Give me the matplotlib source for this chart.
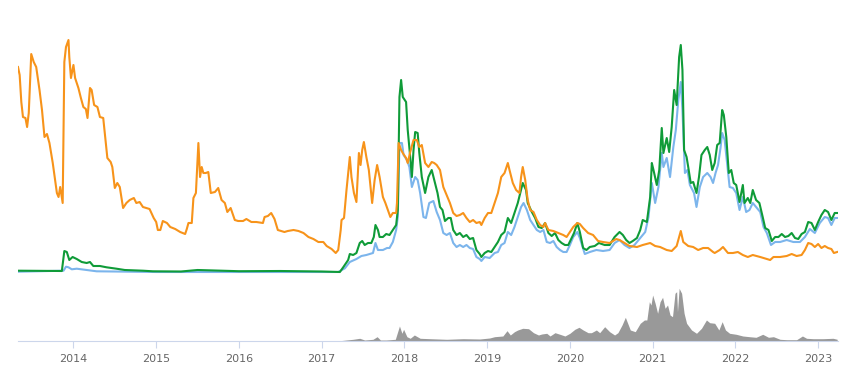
import matplotlib
matplotlib.use("Agg")
import matplotlib.pyplot as plt

# decimal years and values
orange_x = [2013.33, 2013.35, 2013.37, 2013.39, 2013.42, 2013.44, 2013.46, 2013.49, 2013.52, 2013.55,
            2013.59, 2013.62, 2013.65, 2013.68, 2013.71, 2013.75, 2013.80, 2013.82, 2013.84, 2013.87,
            2013.89, 2013.91, 2013.94, 2013.95, 2013.97, 2014.00, 2014.02, 2014.06, 2014.09, 2014.12,
            2014.15, 2014.17, 2014.20, 2014.22, 2014.25, 2014.29, 2014.32, 2014.36, 2014.41, 2014.45,
            2014.47, 2014.50, 2014.53, 2014.56, 2014.60, 2014.64, 2014.68, 2014.73, 2014.76, 2014.80,
            2014.84, 2014.88, 2014.92, 2014.97, 2015.00, 2015.02, 2015.05, 2015.08, 2015.13, 2015.17,
            2015.23, 2015.29, 2015.35, 2015.37, 2015.39, 2015.43, 2015.45, 2015.48, 2015.51, 2015.53,
            2015.55, 2015.57, 2015.60, 2015.63, 2015.66, 2015.71, 2015.75, 2015.79, 2015.83, 2015.86,
            2015.90, 2015.95, 2015.99, 2016.05, 2016.09, 2016.15, 2016.21, 2016.29, 2016.31, 2016.35,
            2016.39, 2016.43, 2016.47, 2016.51, 2016.55, 2016.59, 2016.66, 2016.72, 2016.78, 2016.84,
            2016.90, 2016.96, 2017.02, 2017.06, 2017.12, 2017.17, 2017.20, 2017.23, 2017.24, 2017.27,
            2017.30, 2017.32, 2017.34, 2017.36, 2017.39, 2017.42, 2017.45, 2017.47, 2017.49, 2017.51,
            2017.54, 2017.57, 2017.59, 2017.61, 2017.64, 2017.67, 2017.70, 2017.74, 2017.77, 2017.80,
            2017.83, 2017.86, 2017.90, 2017.91, 2017.93, 2017.96, 2017.98, 2018.02, 2018.04, 2018.07,
            2018.11, 2018.15, 2018.18, 2018.21, 2018.25, 2018.29, 2018.33, 2018.36, 2018.39, 2018.43,
            2018.47, 2018.51, 2018.55, 2018.59, 2018.63, 2018.67, 2018.71, 2018.75, 2018.79, 2018.83,
            2018.87, 2018.91, 2018.93, 2018.97, 2019.01, 2019.05, 2019.09, 2019.13, 2019.17, 2019.21,
            2019.25, 2019.27, 2019.31, 2019.35, 2019.39, 2019.41, 2019.43, 2019.46, 2019.49, 2019.52,
            2019.56, 2019.60, 2019.64, 2019.68, 2019.70, 2019.74, 2019.80, 2019.86, 2019.92, 2019.96,
            2020.00, 2020.04, 2020.09, 2020.12, 2020.16, 2020.22, 2020.28, 2020.34, 2020.40, 2020.48,
            2020.56, 2020.60, 2020.66, 2020.72, 2020.81, 2020.88, 2020.97, 2021.03, 2021.09, 2021.17,
            2021.23, 2021.29, 2021.34, 2021.37, 2021.43, 2021.49, 2021.55, 2021.61, 2021.67, 2021.73,
            2021.75, 2021.81, 2021.85, 2021.91, 2021.97, 2022.03, 2022.09, 2022.15, 2022.21, 2022.30,
            2022.38, 2022.42, 2022.46, 2022.54, 2022.62, 2022.68, 2022.74, 2022.80, 2022.84, 2022.88,
            2022.92, 2022.96, 2023.00, 2023.04, 2023.08, 2023.12, 2023.16, 2023.19, 2023.23]
orange_y = [205, 197, 170, 155, 154, 145, 159, 218, 210, 205,
            182, 162, 135, 138, 129, 109, 79, 75, 85, 69,
            210, 225, 232, 215, 194, 207, 194, 184, 174, 165,
            163, 154, 184, 182, 167, 165, 155, 154, 114, 110,
            105, 84, 89, 85, 64, 69, 72, 74, 69, 70,
            65, 64, 63, 54, 50, 42, 42, 51, 49, 45,
            43, 40, 38, 43, 49, 49, 74, 79, 129, 95,
            105, 99, 99, 100, 79, 80, 84, 72, 69, 60,
            64, 52, 51, 51, 53, 50, 50, 49, 55, 56,
            59, 53, 42, 41, 40, 41, 42, 41, 39, 35,
            33, 30, 30, 26, 23, 19, 22, 42, 52, 54,
            82, 99, 115, 95, 79, 70, 119, 107, 122, 130,
            115, 102, 85, 69, 92, 107, 95, 75, 69, 62,
            55, 59, 59, 69, 129, 122, 119, 114, 109, 120,
            132, 132, 125, 127, 109, 105, 110, 109, 107, 102,
            85, 77, 69, 59, 56, 57, 59, 54, 50, 52,
            49, 50, 47, 54, 59, 59, 69, 79, 95, 99,
            109, 102, 89, 82, 79, 95, 105, 92, 72, 62,
            60, 52, 47, 45, 49, 42, 41, 39, 37, 35,
            40, 45, 49, 48, 44, 39, 37, 31, 30, 29,
            33, 32, 29, 26, 25, 27, 29, 26, 25, 22,
            21, 26, 41, 30, 26, 25, 22, 24, 24, 20,
            19, 22, 25, 19, 19, 20, 17, 15, 17, 15,
            13, 12, 15, 15, 16, 18, 16, 17, 22, 29,
            28, 25, 28, 24, 26, 24, 23, 19, 20]

green_x = [2013.33, 2013.86, 2013.89, 2013.92, 2013.95, 2013.99, 2014.04, 2014.10, 2014.16, 2014.20,
           2014.24, 2014.32, 2014.40, 2014.52, 2014.62, 2014.84, 2014.96, 2015.30, 2015.50, 2016.00,
           2016.50, 2017.00, 2017.22, 2017.26, 2017.32, 2017.34, 2017.38, 2017.42, 2017.46, 2017.49,
           2017.52, 2017.56, 2017.60, 2017.63, 2017.65, 2017.68, 2017.70, 2017.74, 2017.78, 2017.82,
           2017.86, 2017.90, 2017.92, 2017.94, 2017.96, 2017.98, 2018.02, 2018.04, 2018.07, 2018.09,
           2018.11, 2018.13, 2018.16, 2018.18, 2018.21, 2018.25, 2018.29, 2018.33, 2018.36, 2018.40,
           2018.43, 2018.46, 2018.49, 2018.53, 2018.56, 2018.59, 2018.63, 2018.67, 2018.71, 2018.75,
           2018.79, 2018.83, 2018.87, 2018.91, 2018.93, 2018.97, 2019.01, 2019.05, 2019.09, 2019.13,
           2019.17, 2019.21, 2019.25, 2019.29, 2019.33, 2019.37, 2019.40, 2019.43, 2019.47, 2019.49,
           2019.54, 2019.58, 2019.62, 2019.66, 2019.70, 2019.74, 2019.78, 2019.82, 2019.86, 2019.90,
           2019.94, 2019.98, 2020.02, 2020.05, 2020.09, 2020.12, 2020.16, 2020.20, 2020.24, 2020.30,
           2020.35, 2020.42, 2020.48, 2020.54, 2020.60, 2020.64, 2020.68, 2020.72, 2020.76, 2020.81,
           2020.85, 2020.88, 2020.93, 2020.97, 2020.99, 2021.01, 2021.05, 2021.08, 2021.11, 2021.13,
           2021.17, 2021.20, 2021.23, 2021.26, 2021.29, 2021.32, 2021.34, 2021.36, 2021.38, 2021.41,
           2021.43, 2021.46, 2021.49, 2021.53, 2021.56, 2021.59, 2021.63, 2021.66, 2021.69, 2021.72,
           2021.75, 2021.78, 2021.81, 2021.84, 2021.86, 2021.89, 2021.92, 2021.95, 2021.98, 2022.01,
           2022.05, 2022.09, 2022.11, 2022.15, 2022.18, 2022.21, 2022.25, 2022.29, 2022.33, 2022.36,
           2022.40, 2022.44, 2022.48, 2022.52, 2022.56, 2022.60, 2022.64, 2022.68, 2022.72, 2022.76,
           2022.80, 2022.84, 2022.88, 2022.92, 2022.96, 2023.00, 2023.04, 2023.08, 2023.12, 2023.16,
           2023.20, 2023.23]
green_y = [1.3, 1, 21, 20, 12, 15, 13, 10, 9, 10,
           6, 6, 4.7, 3.3, 2, 1.3, 0.7, 0.5, 2, 0.8,
           1, 0.5, 0, 4.7, 12, 18, 17, 19, 29, 31,
           27, 29, 29, 35, 47, 42, 35, 35, 38, 37,
           42, 47, 62, 175, 192, 175, 170, 142, 115, 95,
           122, 140, 139, 119, 95, 79, 95, 102, 92, 79,
           65, 62, 51, 54, 54, 42, 37, 39, 35, 37,
           33, 34, 22, 18, 15, 19, 21, 20, 25, 30,
           37, 40, 54, 49, 59, 69, 79, 89, 82, 69,
           60, 54, 45, 44, 49, 39, 36, 39, 32, 29,
           27, 27, 34, 39, 49, 40, 24, 22, 25, 26,
           29, 27, 27, 35, 40, 37, 32, 29, 31, 34,
           42, 52, 50, 75, 109, 102, 87, 102, 144, 119,
           134, 120, 145, 182, 167, 215, 227, 202, 122, 115,
           105, 89, 90, 79, 95, 117, 122, 125, 117, 102,
           109, 127, 129, 162, 157, 135, 99, 102, 89, 87,
           70, 87, 69, 74, 69, 82, 72, 69, 55, 44,
           42, 31, 35, 35, 38, 35, 36, 39, 34, 33,
           38, 40, 50, 49, 42, 50, 57, 62, 60, 52,
           59, 59]

blue_x = [2013.33, 2013.88, 2013.91, 2013.94, 2013.98, 2014.04, 2014.16, 2014.28, 2015.00, 2016.00,
          2017.20, 2017.28, 2017.34, 2017.42, 2017.48, 2017.54, 2017.62, 2017.65, 2017.68, 2017.74,
          2017.79, 2017.82, 2017.86, 2017.90, 2017.92, 2017.94, 2017.97, 2017.99, 2018.03, 2018.06,
          2018.09, 2018.13, 2018.16, 2018.19, 2018.23, 2018.26, 2018.30, 2018.35, 2018.39, 2018.43,
          2018.47, 2018.51, 2018.55, 2018.59, 2018.63, 2018.67, 2018.71, 2018.75, 2018.79, 2018.83,
          2018.87, 2018.91, 2018.93, 2018.97, 2019.03, 2019.09, 2019.13, 2019.17, 2019.21, 2019.25,
          2019.29, 2019.33, 2019.37, 2019.41, 2019.44, 2019.48, 2019.52, 2019.56, 2019.60, 2019.64,
          2019.68, 2019.72, 2019.76, 2019.80, 2019.84, 2019.88, 2019.92, 2019.96, 2020.00, 2020.04,
          2020.09, 2020.12, 2020.18, 2020.24, 2020.32, 2020.40, 2020.48, 2020.54, 2020.60, 2020.66,
          2020.72, 2020.78, 2020.85, 2020.91, 2020.95, 2020.99, 2021.03, 2021.07, 2021.11, 2021.13,
          2021.17, 2021.21, 2021.25, 2021.28, 2021.31, 2021.34, 2021.36, 2021.39, 2021.42, 2021.45,
          2021.50, 2021.53, 2021.57, 2021.61, 2021.66, 2021.70, 2021.73, 2021.76, 2021.79, 2021.82,
          2021.84, 2021.87, 2021.90, 2021.93, 2021.97, 2022.01, 2022.05, 2022.09, 2022.13, 2022.17,
          2022.21, 2022.25, 2022.30, 2022.34, 2022.38, 2022.43, 2022.48, 2022.54, 2022.62, 2022.70,
          2022.78, 2022.84, 2022.90, 2022.96, 2023.02, 2023.08, 2023.12, 2023.16, 2023.20, 2023.23]
blue_y = [0.3, 1.3, 5.3, 4.7, 2.7, 3.3, 2, 0.7, 0, 0,
          0, 3.7, 10, 13, 16, 17, 19, 29, 22, 22,
          24, 24, 30, 42, 55, 129, 129, 117, 112, 105,
          85, 95, 92, 79, 55, 54, 69, 71, 60, 52,
          39, 37, 39, 29, 25, 27, 25, 27, 24, 23,
          15, 13, 11, 15, 14, 19, 20, 27, 29, 40,
          37, 45, 55, 65, 69, 62, 52, 47, 42, 40,
          42, 30, 29, 31, 25, 22, 20, 20, 27, 35,
          40, 34, 18, 20, 22, 21, 22, 29, 32, 27,
          24, 27, 34, 40, 55, 89, 69, 85, 119, 105,
          114, 95, 125, 142, 172, 190, 162, 99, 102, 87,
          79, 65, 85, 95, 99, 95, 89, 99, 107, 124,
          139, 132, 109, 85, 84, 79, 62, 75, 60, 62,
          69, 65, 60, 45, 39, 27, 30, 30, 32, 30,
          30, 35, 43, 39, 49, 55, 54, 47, 54, 54]

vol_x = [2013.33, 2017.20, 2017.22, 2017.38, 2017.46, 2017.52, 2017.62, 2017.67, 2017.71, 2017.78,
         2017.89, 2017.94, 2017.97, 2017.99, 2018.03, 2018.07, 2018.12, 2018.19, 2018.31, 2018.51,
         2018.71, 2018.91, 2019.03, 2019.09, 2019.19, 2019.24, 2019.28, 2019.33, 2019.37, 2019.43,
         2019.50, 2019.56, 2019.62, 2019.66, 2019.72, 2019.76, 2019.82, 2019.88, 2019.94, 2020.00,
         2020.06, 2020.11, 2020.16, 2020.22, 2020.26, 2020.32, 2020.36, 2020.42, 2020.48, 2020.54,
         2020.58, 2020.63, 2020.67, 2020.73, 2020.79, 2020.85, 2020.90, 2020.93, 2020.96, 2020.98,
         2021.00, 2021.03, 2021.06, 2021.09, 2021.12, 2021.15, 2021.18, 2021.21, 2021.24, 2021.27,
         2021.29, 2021.30, 2021.32, 2021.35, 2021.38, 2021.41, 2021.47, 2021.53, 2021.59, 2021.65,
         2021.69, 2021.75, 2021.80, 2021.84, 2021.88, 2021.93, 2022.01, 2022.09, 2022.17, 2022.25,
         2022.33, 2022.40, 2022.46, 2022.54, 2022.62, 2022.74, 2022.81, 2022.86, 2022.94, 2023.06,
         2023.18, 2023.23]
vol_y = [0, 0, 0.3, 1.7, 2.7, 1, 1.7, 4.3, 1, 1,
         1.7, 15, 7.7, 11.7, 4.3, 2.7, 6, 2.7, 2.3, 1.7,
         2.3, 2, 3, 4.3, 5, 10.3, 6, 9.3, 11, 12.7,
         12.3, 8.3, 6, 7, 7.7, 5, 8.3, 6.7, 5, 7.7,
         11.7, 13.7, 11, 8.3, 8.3, 11, 8.3, 14.3, 9.3, 6,
         8.3, 16, 23.7, 11, 9.3, 17.7, 21, 21, 39.3, 36,
         46, 37.7, 27.7, 39.3, 43.7, 32.7, 36, 26, 24.3, 47.7,
         49.3, 29.3, 52.7, 47.7, 27.7, 17.7, 11, 7.7, 12.7, 21,
         18.3, 17.7, 11, 19.3, 11, 7.7, 6.7, 5, 4.3, 3.7,
         6.7, 3.7, 4.3, 1.7, 1.3, 1.3, 5, 2.7, 2.3, 2.3,
         2.7, 1.7]

years = [2014, 2015, 2016, 2017, 2018, 2019, 2020, 2021, 2022, 2023]

W, H = 862, 376
fig = plt.figure(figsize=(W / 100, H / 100), dpi=100)

x0, x1 = 2013.33, 2023.24
left = 18 / W
width = (838 - 18) / W

ax = fig.add_axes([left, (H - 275) / H, width, 245 / H])
ax.plot(blue_x, blue_y, color="#7cb5ec", lw=1.5, solid_joinstyle="round")
ax.plot(green_x, green_y, color="#0f9b38", lw=1.5, solid_joinstyle="round")
ax.plot(orange_x, orange_y, color="#f7931a", lw=1.5, solid_joinstyle="round")
ax.set_xlim(x0, x1)
ax.set_ylim(-3, 242)
ax.axis("off")

vax = fig.add_axes([left, (H - 341) / H, width, 56 / H])
vax.fill_between(vol_x, vol_y, 0, color="#999999", lw=0)
vax.set_xlim(x0, x1)
vax.set_ylim(0, 56)
for s in ["top", "left", "right"]:
    vax.spines[s].set_visible(False)
vax.spines["bottom"].set_color("#ccd6eb")
vax.set_yticks([])
vax.set_xticks(years)
vax.set_xticklabels([str(y) for y in years], fontsize=8, color="#666666")
vax.tick_params(axis="x", length=5, color="#ccd6eb", pad=4)

fig.savefig("out.png", dpi=100)
